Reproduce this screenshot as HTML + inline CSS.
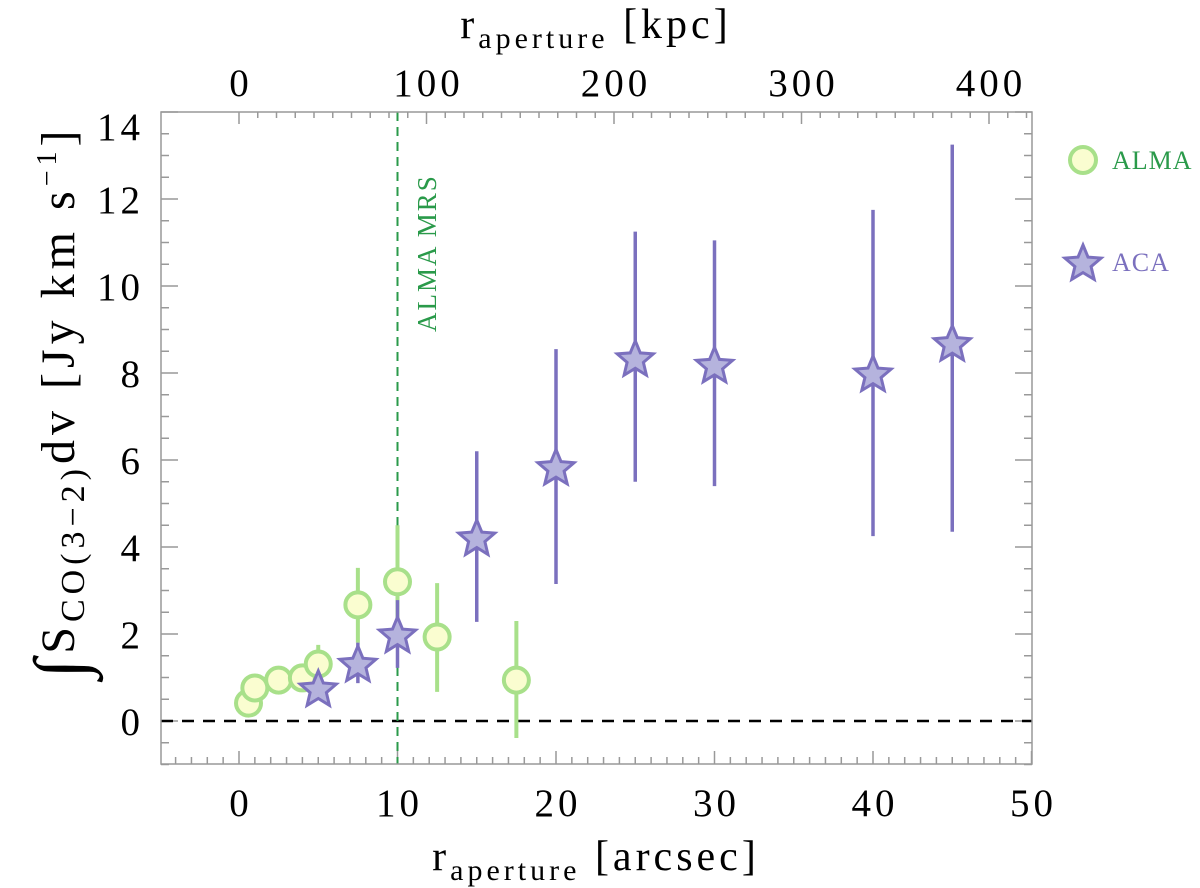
<!DOCTYPE html>
<html><head><meta charset="utf-8"><style>
html,body{margin:0;padding:0;background:#fff;}
svg{display:block;font-family:"Liberation Serif","DejaVu Serif",serif;}
</style></head><body>
<svg id="chart" width="1200" height="888" viewBox="0 0 1200 888">
<g id="ticks"></g>
<g id="marks"></g>
<rect x="161" y="112" width="871" height="652" fill="none" stroke="#999" stroke-width="1.5"/>
<text x="596" y="38" font-size="42" letter-spacing="4" text-anchor="middle">r<tspan font-size="30" dy="10">aperture</tspan><tspan dy="-10"> [kpc]</tspan></text>
<text x="596" y="870" font-size="42" letter-spacing="4" text-anchor="middle">r<tspan font-size="30" dy="10">aperture</tspan><tspan dy="-10"> [arcsec]</tspan></text>
<text transform="translate(74,402) rotate(-90)" font-size="48" letter-spacing="5" text-anchor="middle"><tspan font-size="72" dy="10">∫</tspan><tspan dy="-10">S</tspan><tspan font-size="34" dy="10">CO(3−2)</tspan><tspan dy="-10">dv [Jy km s</tspan><tspan font-size="28" dy="-18">−1</tspan><tspan dy="18">]</tspan></text>
<text transform="translate(436,332) rotate(-90)" font-size="27" letter-spacing="2" fill="#2a9a4a">ALMA MRS</text>
<g>
<circle cx="1083" cy="160" r="13" fill="#fafdd0" stroke="#a8e08a" stroke-width="4"/>
<text x="1112" y="169" font-size="26" letter-spacing="1" fill="#2a9a4a">ALMA</text>
<g id="legstar"></g>
<text x="1112" y="271" font-size="26" letter-spacing="1" fill="#7b70be">ACA</text>
</g>
</svg>
<script>
const almaX=[0.6,1.0,2.5,4.0,5.0,7.5,10,12.5,17.5];
const almaY=[0.41,0.76,0.94,0.99,1.31,2.67,3.2,1.93,0.94];
const almaLo=[0.41,0.76,0.94,0.99,0.9,1.8,1.9,0.67,-0.39];
const almaHi=[0.41,0.76,0.94,0.99,1.75,3.52,4.5,3.17,2.3];
const acaX=[5,7.5,10,15,20,25,30,40,45];
const acaY=[0.76,1.33,2.0,4.23,5.85,8.35,8.2,8.0,8.7];
const acaLo=[0.76,0.87,1.22,2.28,3.15,5.5,5.4,4.25,4.35];
const acaHi=[0.76,1.8,2.78,6.2,8.55,11.25,11.05,11.75,13.25];
const xTicks=[0,10,20,30,40,50];
const yTicks=[0,2,4,6,8,10,12,14];
const kpcTicks=[0,100,200,300,400];
const mrsX=10;
const NS="http://www.w3.org/2000/svg";
const X=v=>239+15.85*v, Y=v=>721-43.5*v, K=v=>239+1.875*v;
function mk(tag,at,parent){const e=document.createElementNS(NS,tag);for(const k in at)e.setAttribute(k,at[k]);parent.appendChild(e);return e;}
const T=document.getElementById('ticks'), M=document.getElementById('marks');
const tc='#999';
for(let v=-4;v<=50;v++){const maj=v%10===0,l=maj?13:7;
 const a=mk('line',{x1:X(v),x2:X(v),y1:764,y2:764-l,stroke:tc,'stroke-width':1.5},T);
 }
for(let v=0;v<=420;v+=10){const maj=v%100===0,l=maj?12:6;
 const a=mk('line',{x1:K(v),x2:K(v),y1:112,y2:112+l,stroke:tc,'stroke-width':1.5},T);
 }
for(let v=-1;v<=14;v+=0.5){const maj=Math.abs(v%2)<1e-9,l=maj?17:8;
 const a=mk('line',{x1:161,x2:161+l,y1:Y(v),y2:Y(v),stroke:tc,'stroke-width':1.5},T);
 
 const b=mk('line',{x1:1032,x2:1032-l,y1:Y(v),y2:Y(v),stroke:tc,'stroke-width':1.5},T);
 }
xTicks.forEach(v=>{const t=mk('text',{x:X(v)+2,y:816,'font-size':39,'letter-spacing':4,'text-anchor':'middle'},T);t.textContent=v;
 });
kpcTicks.forEach(v=>{const t=mk('text',{x:K(v)+2,y:96,'font-size':39,'letter-spacing':4,'text-anchor':'middle'},T);t.textContent=v;
 });
yTicks.forEach(v=>{const yy=v===14?126:Y(v);const t=mk('text',{x:144,y:yy+14,'font-size':39,'letter-spacing':4,'text-anchor':'end'},T);t.textContent=v;
 });
const z=mk('line',{x1:161,x2:1032,y1:Y(0),y2:Y(0),stroke:'#000','stroke-width':2.5,'stroke-dasharray':'12,9'},M);

const mrs=mk('line',{x1:X(mrsX),x2:X(mrsX),y1:112,y2:764,stroke:'#2a9a4a','stroke-width':2,'stroke-dasharray':'9,6'},M);

function starPts(cx,cy,R){const r=R*0.45;let p=[];for(let i=0;i<10;i++){const a=-Math.PI/2+i*Math.PI/5,rr=i%2?r:R;p.push((cx+rr*Math.cos(a)).toFixed(1)+','+(cy+rr*Math.sin(a)).toFixed(1));}return p.join(' ');}
almaX.forEach((x,i)=>{const e=mk('line',{x1:X(x),x2:X(x),y1:Y(almaLo[i]),y2:Y(almaHi[i]),stroke:'#a8e08a','stroke-width':4},M);
 });
almaX.forEach((x,i)=>{const c=mk('circle',{cx:X(x),cy:Y(almaY[i]),r:12.5,fill:'#fafdd0',stroke:'#a8e08a','stroke-width':4},M);
 });
acaX.forEach((x,i)=>{const e=mk('line',{x1:X(x),x2:X(x),y1:Y(acaLo[i]),y2:Y(acaHi[i]),stroke:'#7b70be','stroke-width':3.5},M);
 
 const s=mk('polygon',{points:starPts(X(x),Y(acaY[i])+2,19),fill:'#b5b3dd',stroke:'#7b70be','stroke-width':3,'stroke-linejoin':'miter'},M);
 });
const ls=mk('polygon',{points:starPts(1083,264,19),fill:'#b5b3dd',stroke:'#7b70be','stroke-width':3},document.getElementById('legstar'));

</script>
</body></html>
